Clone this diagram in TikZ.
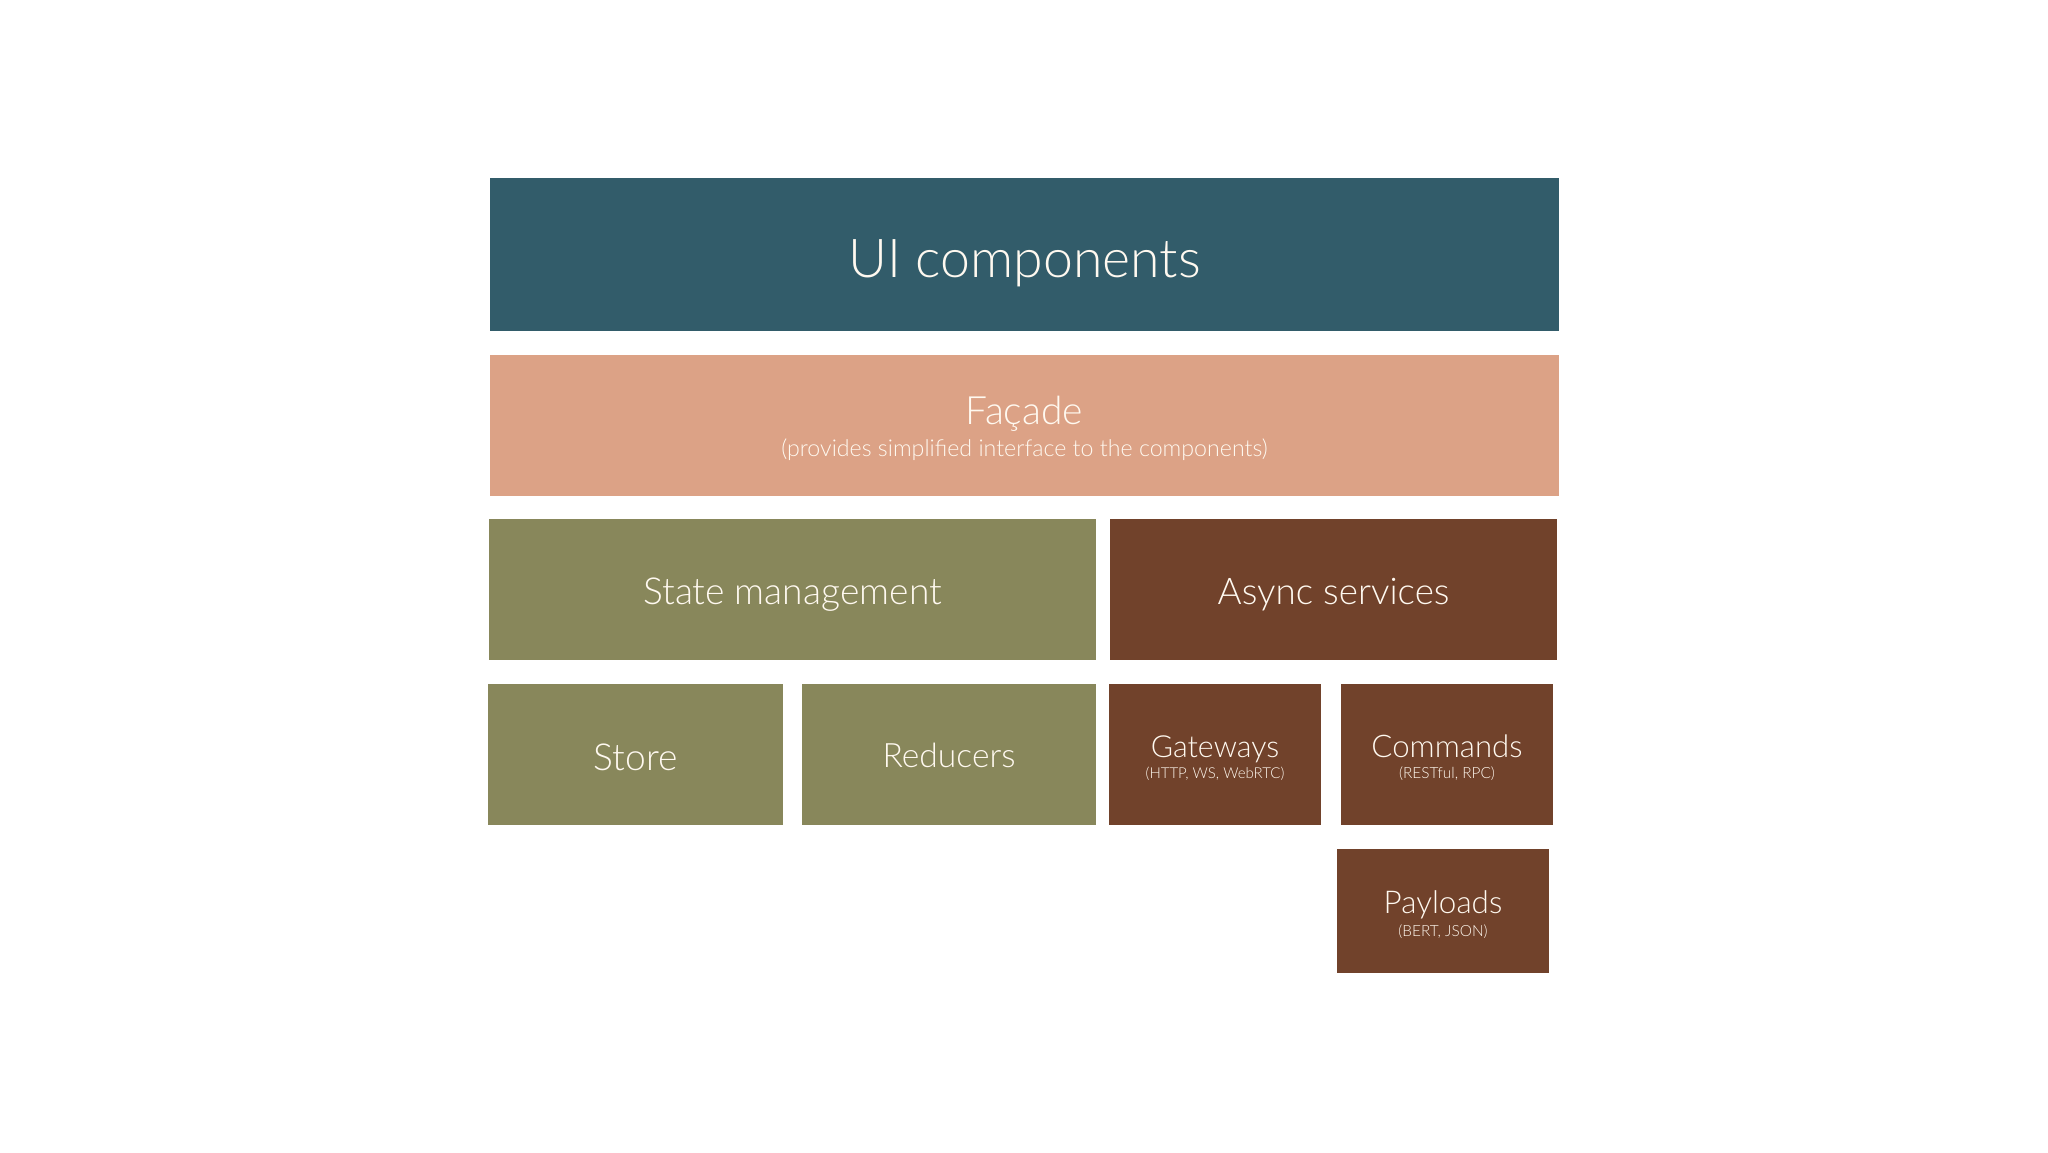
\documentclass[tikz,border=0pt]{standalone}
\usepackage{fontspec}
\IfFontExistsTF{Lato Light}{\setmainfont{Lato Light}}{\setmainfont{TeX Gyre Heros}}
\definecolor{uiteal}{HTML}{325C6A}
\definecolor{facade}{HTML}{DCA286}
\definecolor{olive}{HTML}{88875B}
\definecolor{rust}{HTML}{71422B}
\definecolor{txt}{HTML}{FFF9F0}
\newcommand{\fs}[1]{\fontsize{#1}{#1}\selectfont}
\begin{document}
\begin{tikzpicture}[x=0.5pt,y=-0.5pt,
  blk/.style={rectangle,inner sep=0pt,anchor=center},
  lbl/.style={inner sep=0pt,text=txt,anchor=base}]
\useasboundingbox[fill=white] (0,0) rectangle (2048,1152);
% boxes
\node[blk,fill=uiteal,minimum width=534.5pt,minimum height=76.5pt] (ui) at (1024.5,254.5) {};
\node[blk,fill=facade,minimum width=534.5pt,minimum height=70.5pt] (fac) at (1024.5,425.5) {};
\node[blk,fill=olive,minimum width=303.5pt,minimum height=70.5pt] (sm) at (792.5,589.5) {};
\node[blk,fill=rust,minimum width=223.5pt,minimum height=70.5pt] (async) at (1333.5,589.5) {};
\node[blk,fill=olive,minimum width=147.5pt,minimum height=70.5pt] (store) at (635.5,754.5) {};
\node[blk,fill=olive,minimum width=147pt,minimum height=70.5pt] (red) at (949,754.5) {};
\node[blk,fill=rust,minimum width=106pt,minimum height=70.5pt] (gw) at (1215,754.5) {};
\node[blk,fill=rust,minimum width=106pt,minimum height=70.5pt] (cmd) at (1447,754.5) {};
\node[blk,fill=rust,minimum width=106pt,minimum height=62pt] (pay) at (1443,911) {};
% labels
\node[lbl,font=\fs{26.8}] (uit) at (1024.5,277) {UI components};
\node[lbl,font=\fs{19.5}] (fact) at (1024.5,424) {Façade};
\node[lbl,font=\fs{11.6}] (facs) at (1024.5,456) {(provides simplified interface to the components)};
\node[lbl,font=\fs{18.6}] (smt) at (792.5,604) {State management};
\node[lbl,font=\fs{18.4}] (asyt) at (1333.5,604) {Async services};
\node[lbl,font=\fs{18.6}] (stt) at (635.5,770) {Store};
\node[lbl,font=\fs{16.8}] (redt) at (949,767) {Reducers};
\node[lbl,font=\fs{15.2}] (gwt) at (1215,757) {Gateways};
\node[lbl,font=\fs{7.5}] (gws) at (1215,778) {(HTTP, WS, WebRTC)};
\node[lbl,font=\fs{15.6}] (cmdt) at (1447,757) {Commands};
\node[lbl,font=\fs{7.7}] (cmds) at (1447,778) {(RESTful, RPC)};
\node[lbl,font=\fs{15.7}] (payt) at (1443,913) {Payloads};
\node[lbl,font=\fs{7.7}] (pays) at (1443,936) {(BERT, JSON)};
\end{tikzpicture}
\end{document}
